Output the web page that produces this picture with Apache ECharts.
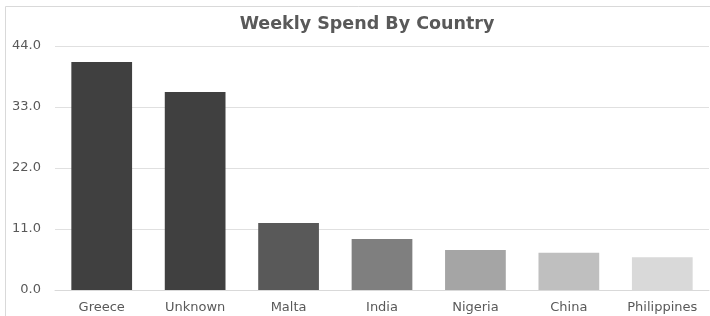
<!DOCTYPE html>
<html><head><meta charset="utf-8">
<script src="https://cdn.jsdelivr.net/npm/echarts@6/dist/echarts.min.js"></script>
<style>html,body{margin:0;padding:0;background:#fff}#c{width:710px;height:316px}</style>
</head><body><div id="c"></div>
<script>
const categories = ["Greece","Unknown","Malta","India","Nigeria","China","Philippines"];
const values = [41.1, 35.7, 12.1, 9.2, 7.2, 6.7, 5.9];
const barColors = ["#404040","#404040","#595959","#7f7f7f","#a5a5a5","#bfbfbf","#d9d9d9"];
const yTicks = {min:0, max:44, interval:11};
const chart = echarts.init(document.getElementById('c'), null, {renderer:'canvas'});
chart.setOption({
  animation:false,
  textStyle:{fontFamily:'DejaVu Sans'},
  graphic:[{type:'rect',shape:{x:5.5,y:6.5,width:720,height:320},style:{fill:'none',stroke:'#d9d9d9',lineWidth:1},silent:true,z:-1}],
  title:{text:'Weekly Spend By Country',left:362,textAlign:'center',top:10,
    textStyle:{fontFamily:'DejaVu Sans',fontWeight:'bold',fontSize:17.5,color:'#595959'}},
  grid:{left:55,right:1,top:46,bottom:26,containLabel:false},
  xAxis:{type:'category',data:categories,
    axisLine:{lineStyle:{color:'#d9d9d9',width:1}},axisTick:{show:false},
    axisLabel:{color:'#595959',fontSize:13,margin:11,interval:0}},
  yAxis:{type:'value',min:yTicks.min,max:yTicks.max,interval:yTicks.interval,
    axisLine:{show:false},axisTick:{show:false},
    splitLine:{lineStyle:{color:'#e0e0e0',width:1}},
    axisLabel:{color:'#595959',fontSize:13,margin:14,formatter:v=>v.toFixed(1)}},
  series:[{type:'bar',barCategoryGap:'35%',
    data:values.map((v,i)=>({value:v,itemStyle:{color:barColors[i]}}))}]
});
</script></body></html>
